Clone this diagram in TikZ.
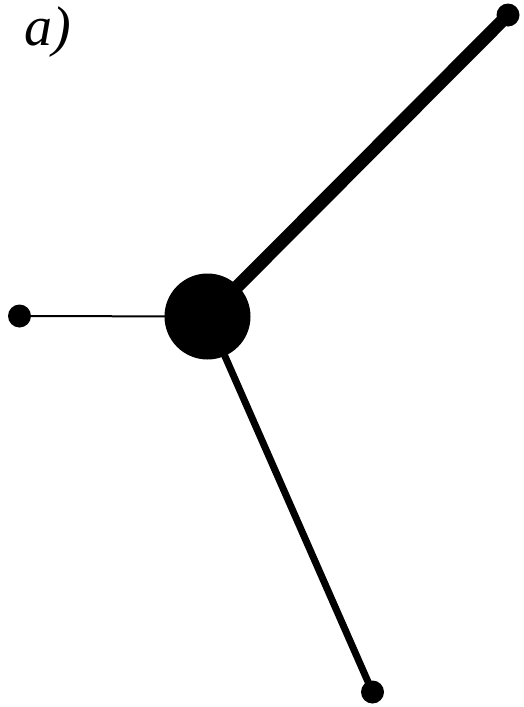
\documentclass[tikz,border=0pt]{standalone}
\usepackage{fontspec}
\setmainfont{Liberation Serif}
\begin{document}
\begin{tikzpicture}[x=1pt,y=-1pt,
  dot/.style={circle,fill=black,inner sep=0pt,minimum size=23pt},
  hub/.style={circle,fill=black,inner sep=0pt,minimum size=86pt}]
\useasboundingbox (0,0) rectangle (523,707);
\node[anchor=base,font=\fontsize{56}{60}\selectfont\itshape] (lbl) at (48,45) {a)};
\node[hub] (c) at (207.5,316.5) {};
\node[dot] (l) at (19.5,316) {};
\node[dot] (tr) at (508,15) {};
\node[dot] (b) at (372.5,692) {};
\draw[line width=2pt] (c.center) -- (l.center);
\draw[line width=13pt] (c.center) -- (tr.center);
\draw[line width=7pt] (c.center) -- (b.center);
\end{tikzpicture}
\end{document}
